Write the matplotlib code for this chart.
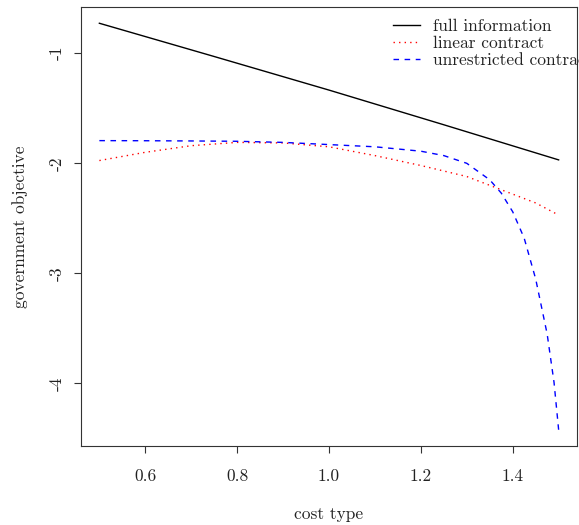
import matplotlib
matplotlib.use("Agg")
import matplotlib.pyplot as plt

plt.rcParams['font.family'] = ['cmr10', 'DejaVu Serif']
plt.rcParams['axes.unicode_minus'] = False
plt.rcParams['mathtext.fontset'] = 'cm'

# cost type grid and government objective under each regime
x_full = [0.5, 0.75, 1.0, 1.25, 1.5]
y_full = [-0.728, -1.03, -1.335, -1.65, -1.969]

x_lin = [0.5, 0.6, 0.7, 0.8, 0.9, 1.0, 1.1, 1.2, 1.3, 1.4, 1.45, 1.5]
y_lin = [-1.975, -1.90, -1.84, -1.81, -1.815, -1.85, -1.93, -2.02, -2.12, -2.28, -2.36, -2.47]

x_unr = [0.5, 0.6, 0.7, 0.8, 0.9, 1.0, 1.1, 1.2, 1.25, 1.3, 1.35, 1.375,
         1.4, 1.425, 1.45, 1.475, 1.49, 1.5]
y_unr = [-1.794, -1.795, -1.797, -1.80, -1.81, -1.83, -1.85, -1.89, -1.93, -2.00, -2.15, -2.27,
         -2.44, -2.68, -3.05, -3.55, -3.99, -4.42]

x_ticks = [0.6, 0.8, 1.0, 1.2, 1.4]
x_ticklabels = ["0.6", "0.8", "1.0", "1.2", "1.4"]
y_ticks = [-1, -2, -3, -4]
y_ticklabels = ["-1", "-2", "-3", "-4"]
series_labels = ["full information", "linear contract", "unrestricted contract"]

FS = 12.5

fig = plt.figure(figsize=(5.79, 5.25), dpi=100)
ax = fig.add_axes([81 / 579, 1 - 446 / 525, 496 / 579, 439 / 525])

ax.plot(x_full, y_full, color="black", lw=1.0, label=series_labels[0])
ax.plot(x_lin, y_lin, color="red", lw=1.0, linestyle=(0, (1, 3)), label=series_labels[1])
ax.plot(x_unr, y_unr, color="blue", lw=1.0, linestyle=(0, (4, 4)), label=series_labels[2])

# R-style 4% padding around the data range
xmin, xmax = 0.5, 1.5
ymin, ymax = min(y_unr), max(y_full)
dx = (xmax - xmin) * 0.04
dy = (ymax - ymin) * 0.04
ax.set_xlim(xmin - dx, xmax + dx)
ax.set_ylim(ymin - dy, ymax + dy)

ax.set_xticks(x_ticks)
ax.set_xticklabels(x_ticklabels)
ax.set_yticks(y_ticks)
ax.set_yticklabels(y_ticklabels, rotation=90, va="center")
ax.tick_params(axis="both", direction="out", length=5, width=0.8, labelsize=FS, colors="#333333",
               labelcolor="#222222")
ax.tick_params(axis="x", pad=11)
ax.tick_params(axis="y", pad=7)

for sp in ax.spines.values():
    sp.set_linewidth(0.8)
    sp.set_color("#333333")

ax.set_xlabel("cost type", fontsize=FS, labelpad=17, color="#222222")
ax.set_ylabel("government objective", fontsize=FS, labelpad=15, color="#222222")

leg = ax.legend(loc="upper left", bbox_to_anchor=(0.629, 0.973), frameon=False,
                fontsize=FS, handlelength=1.55, handletextpad=0.75, labelspacing=0.1,
                borderpad=0.0, borderaxespad=0.0)
for t in leg.get_texts():
    t.set_color("#222222")

fig.savefig("out.png", dpi=100)
